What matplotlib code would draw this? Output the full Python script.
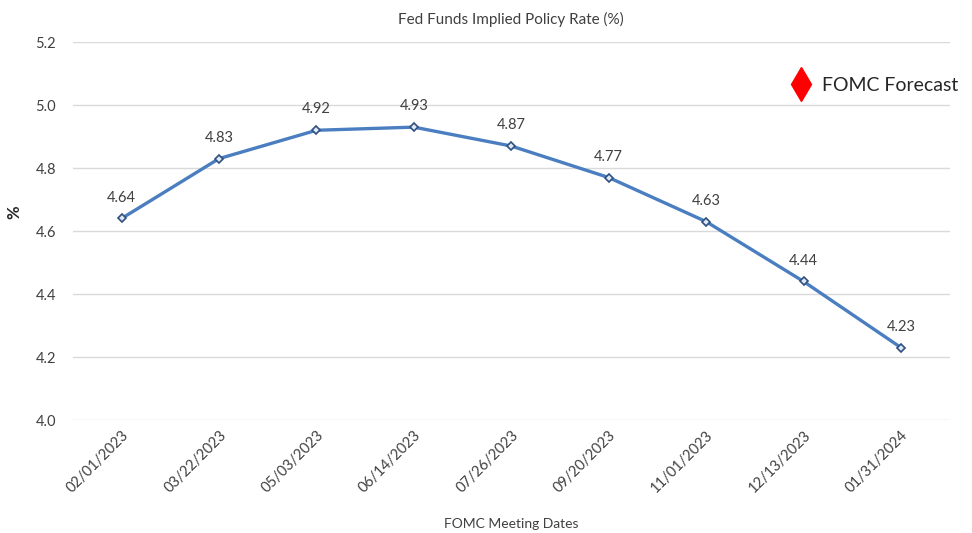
import matplotlib.pyplot as plt
from matplotlib.lines import Line2D

dates = ["02/01/2023", "03/22/2023", "05/03/2023", "06/14/2023", "07/26/2023",
         "09/20/2023", "11/01/2023", "12/13/2023", "01/31/2024"]
rates = [4.64, 4.83, 4.92, 4.93, 4.87, 4.77, 4.63, 4.44, 4.23]
yticks = [4.0, 4.2, 4.4, 4.6, 4.8, 5.0, 5.2]

plt.rcParams['font.family'] = ['Lato', 'DejaVu Sans']

fig = plt.figure(figsize=(9.72, 5.33), dpi=100)
ax = fig.add_axes([0.075, 0.212, 0.902, 0.709])

x = list(range(len(dates)))
ax.plot(x, rates, color="#4A7EC0", lw=2.4, marker="D", ms=4,
        markerfacecolor="#dfe8f5", markeredgecolor="#2F4F80", markeredgewidth=1.2, zorder=3)
for xi, v in zip(x, rates):
    ax.annotate(f"{v:.2f}", (xi, v), xytext=(0, 10), textcoords="offset points",
                ha="center", va="bottom", fontsize=10.5, color="#404040")

ax.set_xlim(-0.5, len(dates) - 0.5)
ax.set_ylim(4.0, 5.2)
ax.set_yticks(yticks)
ax.set_yticklabels([f"{t:.1f}" for t in yticks])
ax.set_xticks(x)
ax.set_xticklabels(dates, rotation=45, ha="right", rotation_mode="anchor")
ax.tick_params(axis="both", length=0, labelsize=10.5, colors="#404040")
ax.tick_params(axis="y", pad=12)
ax.tick_params(axis="x", pad=6)
ax.grid(axis="y", color="#d9d9d9", lw=1)
ax.set_axisbelow(True)
for s in ax.spines.values():
    s.set_visible(False)

ax.set_title("Fed Funds Implied Policy Rate (%)", fontsize=11, color="#404040", pad=13)
ax.set_ylabel("%", fontsize=12, fontweight="bold", color="#262626", labelpad=18)
ax.yaxis.set_label_coords(-0.058, 0.55)
ax.set_xlabel("FOMC Meeting Dates", fontsize=10, color="#404040", labelpad=16)

handle = Line2D([], [], color="red", marker="d", ls="none", ms=17)
ax.legend([handle], ["FOMC Forecast"], loc="upper right", bbox_to_anchor=(1.03, 0.955),
          frameon=False, fontsize=14, handletextpad=0.1, labelcolor="#262626")

fig.savefig("out.png", dpi=100)
